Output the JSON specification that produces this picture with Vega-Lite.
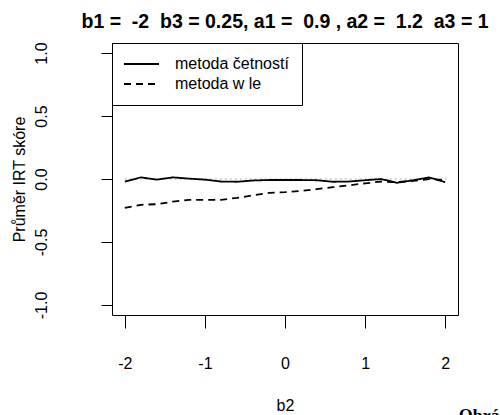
{
  "$schema": "https://vega.github.io/schema/vega-lite/v6.json",
  "width": 346,
  "height": 272,
  "autosize": {"type": "none"},
  "padding": {"left": 112, "top": 43, "right": 42, "bottom": 100},
  "background": "white",
  "title": {
    "text": "b1 =\u00a0 -2\u00a0 b3 = 0.25, a1 =\u00a0 0.9 , a2 =\u00a0 1.2\u00a0 a3 = 1",
    "font": "Liberation Sans",
    "fontSize": 19.5,
    "fontWeight": "bold",
    "color": "black",
    "anchor": "middle",
    "offset": 9
  },
  "config": {
    "view": {"stroke": "black", "strokeWidth": 1},
    "font": "Liberation Sans",
    "axis": {
      "domain": false,
      "grid": false,
      "tickColor": "black",
      "labelColor": "black",
      "titleColor": "black",
      "labelFont": "Liberation Sans",
      "titleFont": "Liberation Sans",
      "labelFontSize": 16,
      "titleFontSize": 16,
      "titleFontWeight": "normal"
    }
  },
  "datasets": {
    "lines": [
      {"b2": -2.0, "score": -0.02, "method": "metoda četností"},
      {"b2": -1.8, "score": 0.013, "method": "metoda četností"},
      {"b2": -1.6, "score": -0.005, "method": "metoda četností"},
      {"b2": -1.4, "score": 0.013, "method": "metoda četností"},
      {"b2": -1.2, "score": 0.003, "method": "metoda četností"},
      {"b2": -1.0, "score": -0.005, "method": "metoda četností"},
      {"b2": -0.8, "score": -0.02, "method": "metoda četností"},
      {"b2": -0.6, "score": -0.022, "method": "metoda četností"},
      {"b2": -0.4, "score": -0.012, "method": "metoda četností"},
      {"b2": -0.2, "score": -0.008, "method": "metoda četností"},
      {"b2": 0.0, "score": -0.008, "method": "metoda četností"},
      {"b2": 0.2, "score": -0.008, "method": "metoda četností"},
      {"b2": 0.4, "score": -0.01, "method": "metoda četností"},
      {"b2": 0.6, "score": -0.022, "method": "metoda četností"},
      {"b2": 0.8, "score": -0.02, "method": "metoda četností"},
      {"b2": 1.0, "score": -0.01, "method": "metoda četností"},
      {"b2": 1.2, "score": 0.0, "method": "metoda četností"},
      {"b2": 1.4, "score": -0.03, "method": "metoda četností"},
      {"b2": 1.6, "score": -0.01, "method": "metoda četností"},
      {"b2": 1.8, "score": 0.013, "method": "metoda četností"},
      {"b2": 2.0, "score": -0.025, "method": "metoda četností"},
      {"b2": -2.0, "score": -0.23, "method": "metoda w le"},
      {"b2": -1.8, "score": -0.205, "method": "metoda w le"},
      {"b2": -1.6, "score": -0.2, "method": "metoda w le"},
      {"b2": -1.4, "score": -0.18, "method": "metoda w le"},
      {"b2": -1.2, "score": -0.165, "method": "metoda w le"},
      {"b2": -1.0, "score": -0.165, "method": "metoda w le"},
      {"b2": -0.8, "score": -0.165, "method": "metoda w le"},
      {"b2": -0.6, "score": -0.15, "method": "metoda w le"},
      {"b2": -0.4, "score": -0.13, "method": "metoda w le"},
      {"b2": -0.2, "score": -0.11, "method": "metoda w le"},
      {"b2": 0.0, "score": -0.105, "method": "metoda w le"},
      {"b2": 0.2, "score": -0.095, "method": "metoda w le"},
      {"b2": 0.4, "score": -0.08, "method": "metoda w le"},
      {"b2": 0.6, "score": -0.065, "method": "metoda w le"},
      {"b2": 0.8, "score": -0.05, "method": "metoda w le"},
      {"b2": 1.0, "score": -0.035, "method": "metoda w le"},
      {"b2": 1.2, "score": -0.02, "method": "metoda w le"},
      {"b2": 1.4, "score": -0.025, "method": "metoda w le"},
      {"b2": 1.6, "score": -0.015, "method": "metoda w le"},
      {"b2": 1.8, "score": 0.0, "method": "metoda w le"},
      {"b2": 2.0, "score": -0.01, "method": "metoda w le"}
    ],
    "ref": [{"x1": -2.0, "x2": 2.05, "y": 0}],
    "caption": [{"x": 2.17, "y": -1.82, "label": "Obrázek"}]
  },
  "layer": [
    {
      "data": {"name": "ref"},
      "mark": {"type": "rule", "color": "#b0b0b0", "strokeDash": [2, 3], "strokeWidth": 1},
      "encoding": {
        "x": {"field": "x1", "type": "quantitative"},
        "x2": {"field": "x2"},
        "y": {"field": "y", "type": "quantitative"}
      }
    },
    {
      "data": {"name": "lines"},
      "mark": {"type": "line", "color": "black", "strokeWidth": 1.8},
      "encoding": {
        "x": {
          "field": "b2",
          "type": "quantitative",
          "scale": {"domain": [-2.16, 2.16], "nice": false, "zero": false},
          "axis": {
            "values": [-2, -1, 0, 1, 2],
            "tickSize": 13,
            "labelPadding": 27,
            "title": "b2",
            "titlePadding": 26,
            "labelExpr": "replace(format(datum.value, 'd'), '\u2212', '-')"
          }
        },
        "y": {
          "field": "score",
          "type": "quantitative",
          "scale": {"domain": [-1.08, 1.08], "nice": false, "zero": false},
          "axis": {
            "values": [-1, -0.5, 0, 0.5, 1],
            "tickSize": 11,
            "labelAngle": -90,
            "labelPadding": 52,
            "title": "Průměr IRT skóre",
            "titlePadding": 6,
            "labelExpr": "replace(format(datum.value, '.1f'), '\u2212', '-')"
          }
        },
        "strokeDash": {
          "field": "method",
          "type": "nominal",
          "scale": {"domain": ["metoda četností", "metoda w le"], "range": [[1, 0], [7, 5]]},
          "legend": {
            "title": null,
            "orient": "none",
            "legendX": 0,
            "legendY": 0,
            "strokeColor": "black",
            "padding": 13,
            "symbolOffset": -2,
            "symbolType": "M-1,0H4",
            "symbolSize": 196,
            "symbolStrokeWidth": 1.8,
            "symbolStrokeColor": "black",
            "labelOffset": 36,
            "labelFontSize": 16,
            "labelColor": "black",
            "rowPadding": 4
          }
        }
      }
    },
    {
      "data": {"name": "caption"},
      "mark": {"type": "text", "font": "Liberation Serif", "fontWeight": "bold", "fontSize": 18, "align": "left", "baseline": "top", "clip": false, "color": "black"},
      "encoding": {
        "x": {"field": "x", "type": "quantitative"},
        "y": {"field": "y", "type": "quantitative"},
        "text": {"field": "label"}
      }
    }
  ]
}
